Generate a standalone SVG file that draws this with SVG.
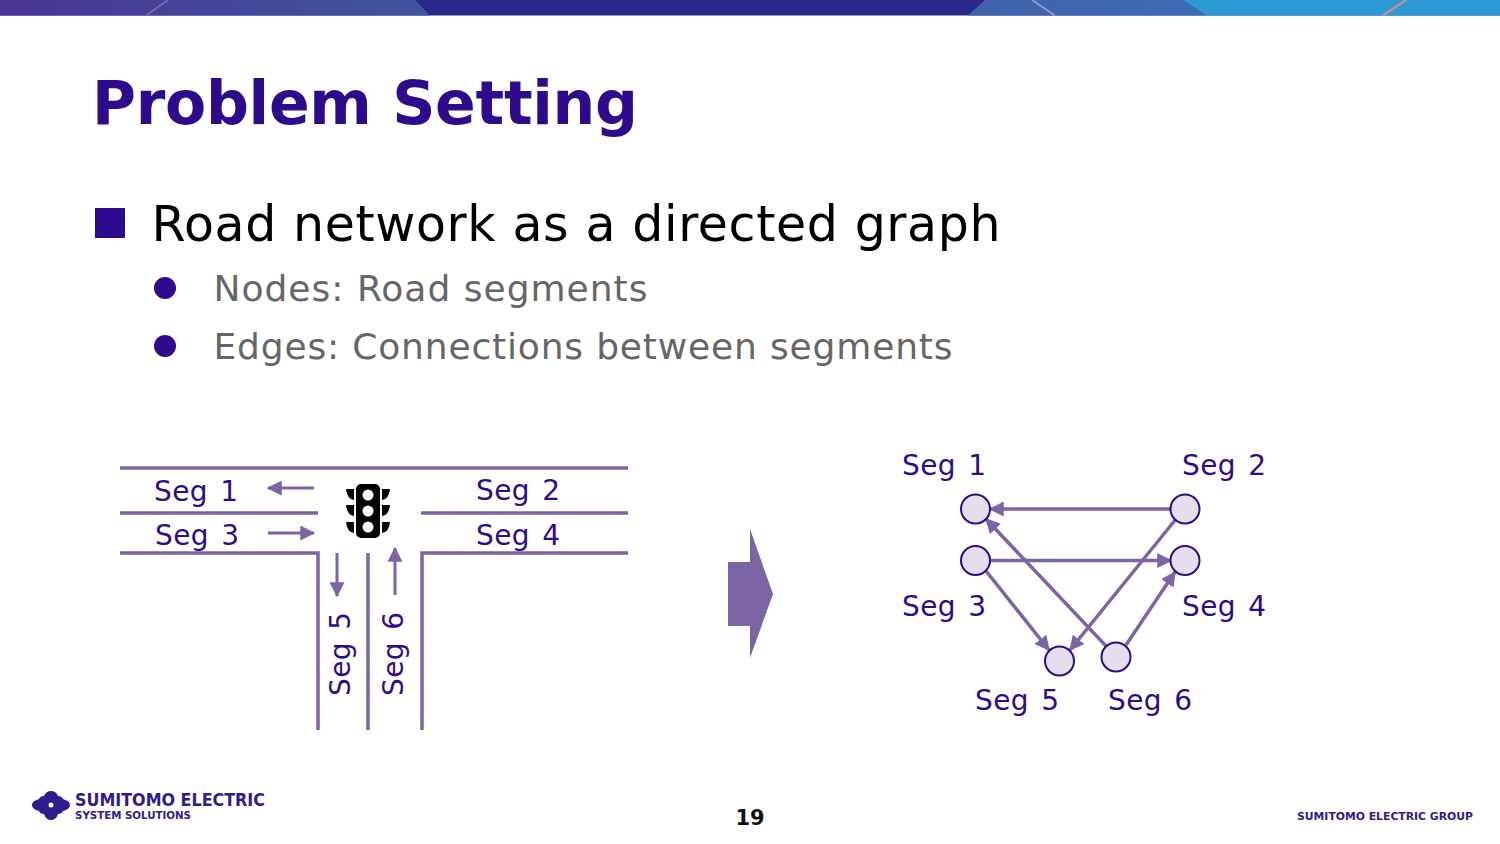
<svg xmlns="http://www.w3.org/2000/svg" width="1500" height="844" viewBox="0 0 1500 844">
<style>
text{font-family:"DejaVu Sans",Verdana,sans-serif}
.lab{font-size:28px;fill:#2e0a8c;word-spacing:3px;letter-spacing:.4px}
.sub{font-size:36px;fill:#666}
.road{fill:none;stroke:#7d64a3;stroke-width:3.500}
.con{fill:none;stroke:#7d64a3;stroke-width:3.500}
.thin{fill:none;stroke:#7d64a3;stroke-width:3}
.n{fill:#e4dfec;stroke:#2e0a8c;stroke-width:2}
.foot{font-weight:700;fill:#2e1d8c}
</style>
<defs>
<linearGradient id="g1" x1="0" x2="1" y1="0" y2="0"><stop offset="0" stop-color="#4a3594"/><stop offset="1" stop-color="#3f569e"/></linearGradient>
<linearGradient id="g2" x1="0" x2="1" y1="0" y2="0"><stop offset="0" stop-color="#3f63aa"/><stop offset="1" stop-color="#3d6cb2"/></linearGradient>
<marker id="a" viewBox="0 0 12 12" refX="11" refY="6" markerWidth="15" markerHeight="15" markerUnits="userSpaceOnUse" orient="auto"><path d="M0 0L12 6L0 12Z" fill="#7d64a3"/></marker>
</defs>
<g id="banner">
<rect width="1500" height="15.500" fill="#27298a"/>
<polygon points="0,0 415,0 430,15.500 0,15.500" fill="url(#g1)"/>
<polygon points="985,0 1183,0 1206,15.500 968,15.500" fill="url(#g2)"/>
<polygon points="1183,0 1500,0 1500,15.500 1206,15.500" fill="#2b9ad2"/>
<path d="M168 0L146 15.500" stroke="#7a68b5" stroke-width="2"/>
<path d="M1032 0L1055 15.500" stroke="#8a9cd0" stroke-width="2"/>
<path d="M1406 0L1383 15.500" stroke="#c98a9c" stroke-width="2.500"/>
</g>
<text x="92" y="124" font-size="60" font-weight="700" fill="#2e0a8c" textLength="546">Problem Setting</text>
<g id="bullets">
<rect x="95" y="208" width="30" height="30" fill="#2e0a8c"/>
<text x="151.500" y="241" font-size="49" fill="#000" textLength="849">Road network as a directed graph</text>
<circle cx="165" cy="288" r="11" fill="#2e0a8c"/>
<text x="213.500" y="300.500" class="sub" textLength="434">Nodes: Road segments</text>
<circle cx="165" cy="346" r="11" fill="#2e0a8c"/>
<text x="213.500" y="358.500" class="sub" textLength="739">Edges: Connections between segments</text>
</g>
<g id="road">
<path class="road" d="M120 468H628M120 513H318M421 513H628M120 553H318V730M368 553V730M628 553H422V730"/>
<path class="thin" marker-end="url(#a)" d="M314 488H268"/>
<path class="thin" marker-end="url(#a)" d="M268 533H314"/>
<path class="thin" marker-end="url(#a)" d="M337 553V596"/>
<path class="thin" marker-end="url(#a)" d="M395 595V548"/>
<text class="lab" x="154" y="500.500">Seg 1</text>
<text class="lab" x="155" y="544.500">Seg 3</text>
<text class="lab" x="476" y="499.500">Seg 2</text>
<text class="lab" x="476" y="544.500">Seg 4</text>
<text class="lab" transform="translate(350 696) rotate(-90)">Seg 5</text>
<text class="lab" transform="translate(403 696) rotate(-90)">Seg 6</text>
</g>
<g id="traffic-light">
<rect x="356" y="484" width="24" height="54" rx="5" fill="#000"/>
<circle cx="368" cy="495" r="5.500" fill="#fff"/><circle cx="368" cy="511" r="5.500" fill="#fff"/><circle cx="368" cy="527" r="5.500" fill="#fff"/>
<path d="M346 489H354V500Q347 499 346 489ZM346 505H354V516Q347 515 346 505ZM346 522H354V533Q347 532 346 522ZM390 489H382V500Q389 499 390 489ZM390 505H382V516Q389 515 390 505ZM390 522H382V533Q389 532 390 522Z" fill="#000"/>
</g>
<polygon id="big-arrow" points="728,562 750,562 750,529 773,594 750,658 750,626 728,626" fill="#7d64a3"/>
<g id="connectors">
<path class="con" marker-end="url(#a)" d="M1171 509H990"/>
<path class="con" marker-end="url(#a)" d="M990 560.500H1171"/>
<path class="con" marker-end="url(#a)" d="M986 571L1049 650"/>
<path class="con" marker-end="url(#a)" d="M1176 519L1070 650"/>
<path class="con" marker-end="url(#a)" d="M1106 646L986 519"/>
<path class="con" marker-end="url(#a)" d="M1126 645L1175 572"/>
</g>
<g id="seg1"><circle class="n" cx="975.500" cy="509" r="14.500"/><text class="lab" x="902" y="474.500">Seg 1</text></g>
<g id="seg2"><circle class="n" cx="1185" cy="509" r="14.500"/><text class="lab" x="1182" y="474.500">Seg 2</text></g>
<g id="seg3"><circle class="n" cx="975.500" cy="560.500" r="14.500"/><text class="lab" x="902" y="615.500">Seg 3</text></g>
<g id="seg4"><circle class="n" cx="1185" cy="560.500" r="14.500"/><text class="lab" x="1182" y="615.500">Seg 4</text></g>
<g id="seg5"><circle class="n" cx="1059.500" cy="661" r="14.500"/><text class="lab" x="975" y="709.500">Seg 5</text></g>
<g id="seg6"><circle class="n" cx="1116" cy="657" r="14.500"/><text class="lab" x="1108" y="709.500">Seg 6</text></g>
<g id="footer">
<path d="M51 791Q56 791 58 796Q62 796 63 799Q70 801 70 805Q70 809 63 811Q62 814 58 814Q56 820 51 820Q46 820 44 814Q40 814 39 811Q32 809 32 805Q32 801 39 799Q40 796 44 796Q46 791 51 791Z" fill="#2e1d8c"/>
<circle cx="51" cy="805" r="2.500" fill="#fff"/>
<text class="foot" x="75" y="805.500" font-size="17" textLength="190" lengthAdjust="spacingAndGlyphs">SUMITOMO ELECTRIC</text>
<text class="foot" x="75" y="818.500" font-size="11" textLength="116" lengthAdjust="spacingAndGlyphs">SYSTEM SOLUTIONS</text>
<text x="750" y="825" font-size="21" font-weight="700" fill="#111" text-anchor="middle">19</text>
<text class="foot" x="1297" y="820" font-size="11" textLength="176" lengthAdjust="spacingAndGlyphs">SUMITOMO ELECTRIC GROUP</text>
</g>
</svg>
